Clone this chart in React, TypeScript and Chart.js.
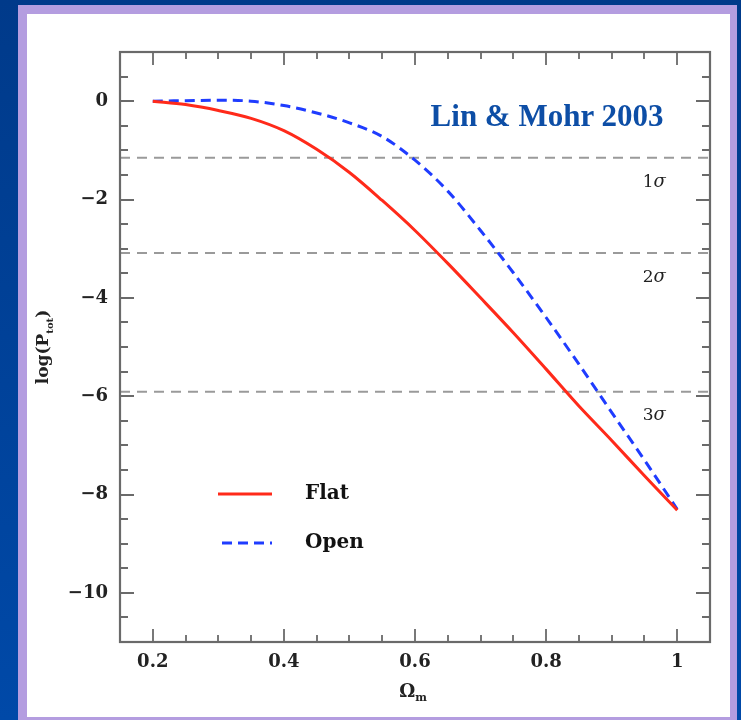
import React, { useEffect, useRef } from "react";
import { Chart, registerables } from "chart.js";
Chart.register(...registerables);

const omegaM = [0.2, 0.25, 0.3, 0.35, 0.4, 0.45, 0.5, 0.55, 0.6, 0.65, 0.7, 0.75, 0.8, 0.85, 0.9, 0.95, 1.0];
const flatLogP = [0, -0.07, -0.19, -0.35, -0.6, -0.98, -1.45, -2.02, -2.63, -3.3, -4.0, -4.71, -5.45, -6.2, -6.9, -7.62, -8.32];
const openLogP = [0, 0.01, 0.02, 0.0, -0.09, -0.24, -0.44, -0.72, -1.2, -1.83, -2.63, -3.49, -4.4, -5.35, -6.33, -7.3, -8.3];
const sigmaLevels = [-1.15, -3.09, -5.91];
const sigmaLabels = ["1", "2", "3"];
const sigmaLabelY = [-1.66, -3.59, -6.39];
const sigmaLabelX = 0.965;
const xTicks = [0.2, 0.4, 0.6, 0.8, 1.0];
const yTicks = [0, -2, -4, -6, -8, -10];
const seriesNames = ["Flat", "Open"];
const xRange = [0.15, 1.05];
const yRange = [-11, 1];
const attribution = "Lin & Mohr 2003";

const SERIF = "'DejaVu Serif', serif";

const decoPlugin = {
  id: "deco",
  afterDraw(chart: any) {
    const ctx = chart.ctx;
    const { left, right, top, bottom } = chart.chartArea;
    const xs = chart.scales.x;
    const ys = chart.scales.y;
    ctx.save();
    // ticks
    ctx.strokeStyle = "#6a6a6a";
    ctx.lineWidth = 1.8;
    ctx.beginPath();
    for (let i = 0; i <= 18; i++) {
      const v = xRange[0] + i * 0.05;
      const major = i % 4 === 1;
      const len = major ? 13 : 7;
      const px = Math.round(xs.getPixelForValue(v));
      ctx.moveTo(px, bottom);
      ctx.lineTo(px, bottom - len);
      ctx.moveTo(px, top);
      ctx.lineTo(px, top + len);
    }
    for (let i = 0; i <= 24; i++) {
      const v = yRange[0] + i * 0.5;
      const major = Number.isInteger(v) && v % 2 === 0;
      const len = major ? 14 : 8;
      const py = Math.round(ys.getPixelForValue(v));
      ctx.moveTo(left, py);
      ctx.lineTo(left + len, py);
      ctx.moveTo(right, py);
      ctx.lineTo(right - len, py);
    }
    ctx.stroke();
    // frame
    ctx.strokeStyle = "#6a6a6a";
    ctx.lineWidth = 2.2;
    ctx.strokeRect(left, top, right - left, bottom - top);

    // sigma labels
    ctx.fillStyle = "#222";
    ctx.textBaseline = "middle";
    for (let i = 0; i < sigmaLabels.length; i++) {
      const cx = xs.getPixelForValue(sigmaLabelX);
      const cy = ys.getPixelForValue(sigmaLabelY[i]);
      ctx.font = `17px ${SERIF}`;
      const w1 = ctx.measureText(sigmaLabels[i]).width;
      ctx.font = `italic 18px ${SERIF}`;
      const w2 = ctx.measureText("σ").width;
      const x0 = cx - (w1 + w2) / 2;
      ctx.textAlign = "left";
      ctx.font = `17px ${SERIF}`;
      ctx.fillText(sigmaLabels[i], x0, cy);
      ctx.font = `italic 18px ${SERIF}`;
      ctx.fillText("σ", x0 + w1, cy);
    }

    // legend
    const lx0 = left + 98, lx1 = left + 152;
    const ly1 = top + 442, ly2 = top + 491;
    ctx.lineWidth = 3;
    ctx.strokeStyle = "#ff2a1a";
    ctx.setLineDash([]);
    ctx.beginPath();
    ctx.moveTo(lx0, ly1);
    ctx.lineTo(lx1, ly1);
    ctx.stroke();
    ctx.strokeStyle = "#1f3cff";
    ctx.setLineDash([10, 6]);
    ctx.beginPath();
    ctx.moveTo(lx0 + 4, ly2);
    ctx.lineTo(lx1, ly2);
    ctx.stroke();
    ctx.setLineDash([]);
    ctx.fillStyle = "#111";
    ctx.font = `bold 20px ${SERIF}`;
    ctx.textAlign = "left";
    ctx.textBaseline = "middle";
    ctx.fillText(seriesNames[0], left + 185, ly1);
    ctx.fillText(seriesNames[1], left + 185, ly2);

    // x title: Omega_m
    ctx.fillStyle = "#222";
    ctx.textBaseline = "alphabetic";
    ctx.font = `bold 18px ${SERIF}`;
    const ow = ctx.measureText("Ω").width;
    ctx.font = `bold 11px ${SERIF}`;
    const mw = ctx.measureText("m").width;
    const tx = (left + right) / 2 - (ow + mw) / 2 - 2;
    const tb = bottom + 55;
    ctx.font = `bold 18px ${SERIF}`;
    ctx.fillText("Ω", tx, tb);
    ctx.font = `bold 11px ${SERIF}`;
    ctx.fillText("m", tx + ow, tb + 4);

    // y title: log(P_tot)
    ctx.save();
    ctx.translate(left - 76, (top + bottom) / 2);
    ctx.rotate(-Math.PI / 2);
    ctx.font = `bold 17px ${SERIF}`;
    const a = "log(P";
    const c = ")";
    const wa = ctx.measureText(a).width;
    const wc = ctx.measureText(c).width;
    ctx.font = `bold 10px ${SERIF}`;
    const wb = ctx.measureText("tot").width;
    const total = wa + wb + wc;
    let x = -total / 2;
    ctx.textBaseline = "middle";
    ctx.font = `bold 17px ${SERIF}`;
    ctx.fillText(a, x, 0);
    x += wa;
    ctx.font = `bold 10px ${SERIF}`;
    ctx.fillText("tot", x, 6);
    x += wb;
    ctx.font = `bold 17px ${SERIF}`;
    ctx.fillText(c, x, 0);
    ctx.restore();

    ctx.restore();
  },
};

function App() {
  const ref = useRef<HTMLCanvasElement | null>(null);
  useEffect(() => {
    if (!ref.current) return;
    const flat = omegaM.map((x, i) => ({ x, y: flatLogP[i] }));
    const open = omegaM.map((x, i) => ({ x, y: openLogP[i] }));
    const sigmaSets = sigmaLevels.map((lv, i) => ({
      label: sigmaLabels[i] + "σ",
      data: [
        { x: xRange[0], y: lv },
        { x: xRange[1], y: lv },
      ],
      borderColor: "#9a9a9a",
      borderWidth: 2,
      borderDash: [10, 7],
      pointRadius: 0,
      showLine: true,
      order: 3,
    }));
    const chart = new Chart(ref.current, {
      type: "scatter",
      data: {
        datasets: [
          {
            label: seriesNames[0],
            data: flat,
            borderColor: "#ff2a1a",
            borderWidth: 3,
            pointRadius: 0,
            showLine: true,
            cubicInterpolationMode: "monotone",
            order: 0,
          },
          {
            label: seriesNames[1],
            data: open,
            borderColor: "#1f3cff",
            borderWidth: 3,
            borderDash: [10, 6],
            pointRadius: 0,
            showLine: true,
            cubicInterpolationMode: "monotone",
            order: 1,
          },
          ...sigmaSets,
        ] as any,
      },
      options: {
        animation: false,
        responsive: false,
        devicePixelRatio: 1,
        layout: { padding: { top: 52, right: 31, left: 0, bottom: 0 } },
        plugins: { legend: { display: false }, tooltip: { enabled: false } },
        scales: {
          x: {
            type: "linear",
            min: xRange[0],
            max: xRange[1],
            grid: { display: false, drawTicks: false },
            border: { display: false },
            afterBuildTicks: (s: any) => {
              s.ticks = xTicks.map((v) => ({ value: v }));
            },
            afterFit: (s: any) => {
              s.height = 78;
            },
            ticks: {
              padding: 10,
              color: "#222",
              font: { family: SERIF, size: 18, weight: "bold" },
              callback: (v: any) => String(Number(v)),
            },
          },
          y: {
            type: "linear",
            min: yRange[0],
            max: yRange[1],
            grid: { display: false, drawTicks: false },
            border: { display: false },
            afterBuildTicks: (s: any) => {
              s.ticks = yTicks.map((v) => ({ value: v }));
            },
            afterFit: (s: any) => {
              s.width = 120;
            },
            ticks: {
              padding: 12,
              color: "#222",
              font: { family: SERIF, size: 18, weight: "bold" },
              callback: (v: any) => (Number(v) < 0 ? "−" + Math.abs(Number(v)) : String(v)),
            },
          },
        },
      } as any,
      plugins: [decoPlugin],
    });
    return () => chart.destroy();
  }, []);
  return (
    <div style={{ position: "fixed", left: 0, top: 0, width: 741, height: 720, background: "linear-gradient(to bottom, #003a8a, #0049a8)" }}>
      <div style={{ position: "absolute", left: 18, top: 5, width: 719, height: 715, background: "#b49de0" }} />
      <div style={{ position: "absolute", left: 27, top: 14, width: 703, height: 703, background: "#ffffff" }} />
      <canvas ref={ref} width={741} height={720} style={{ position: "absolute", left: 0, top: 0, width: 741, height: 720 }} />
      <div
        style={{
          position: "absolute",
          left: 347,
          top: 100,
          width: 400,
          textAlign: "center",
          fontFamily: "'Liberation Serif', 'Times New Roman', Tinos, serif",
          fontWeight: "bold",
          fontSize: 31,
          lineHeight: "31px",
          color: "#0d4ea6",
          whiteSpace: "nowrap",
        }}
      >
        {attribution}
      </div>
    </div>
  );
}

export default App;
